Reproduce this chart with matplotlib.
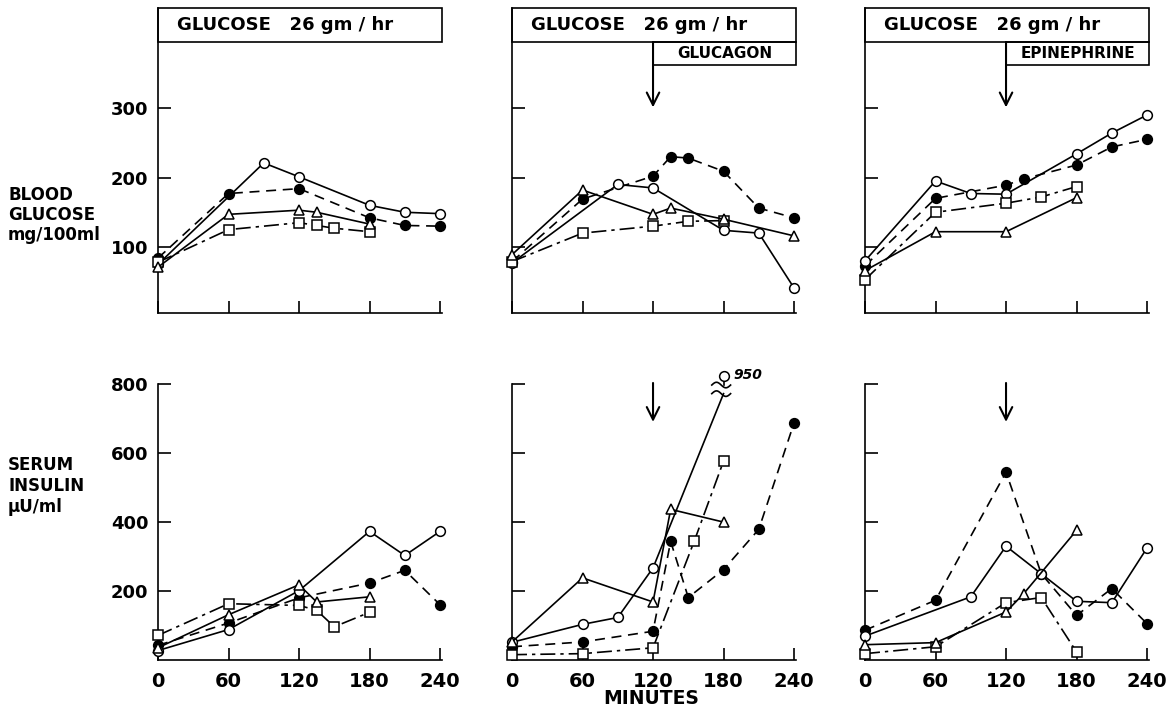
import numpy as np
import matplotlib.pyplot as plt
from matplotlib.patches import Rectangle

plt.rcParams['font.family'] = ['DejaVu Sans']
plt.rcParams['font.weight'] = 'bold'

# ---- blood glucose (mg/100 ml), glucose infusion alone ----
bg_ctrl_open_t = [0, 90, 120, 180, 210, 240]
bg_ctrl_open = [75, 221, 201, 160, 150, 148]
bg_ctrl_fill_t = [0, 60, 120, 180, 210, 240]
bg_ctrl_fill = [84, 177, 184, 142, 131, 130]
bg_ctrl_tri_t = [0, 60, 120, 135, 180]
bg_ctrl_tri = [71, 147, 153, 150, 133]
bg_ctrl_sq_t = [0, 60, 120, 135, 150, 180]
bg_ctrl_sq = [78, 125, 135, 131, 127, 122]

# ---- blood glucose, glucose + glucagon ----
bg_gcg_open_t = [0, 90, 120, 180, 210, 240]
bg_gcg_open = [77, 190, 185, 124, 120, 41]
bg_gcg_fill_t = [0, 60, 120, 135, 150, 180, 210, 240]
bg_gcg_fill = [79, 169, 202, 230, 228, 209, 156, 142]
bg_gcg_tri_t = [0, 60, 120, 135, 180, 240]
bg_gcg_tri = [89, 182, 147, 156, 140, 116]
bg_gcg_sq_t = [0, 60, 120, 150, 180]
bg_gcg_sq = [79, 120, 130, 137, 138]

# ---- blood glucose, glucose + epinephrine ----
bg_epi_open_t = [0, 60, 90, 120, 180, 210, 240]
bg_epi_open = [80, 195, 177, 176, 234, 264, 290]
bg_epi_fill_t = [0, 60, 120, 135, 180, 210, 240]
bg_epi_fill = [73, 170, 189, 198, 218, 244, 255]
bg_epi_tri_t = [0, 60, 120, 180]
bg_epi_tri = [66, 122, 122, 171]
bg_epi_sq_t = [0, 60, 120, 150, 180]
bg_epi_sq = [53, 150, 163, 172, 187]

# ---- serum insulin (uU/ml), glucose alone ----
si_ctrl_open_t = [0, 60, 120, 180, 210, 240]
si_ctrl_open = [26, 87, 200, 372, 302, 372]
si_ctrl_fill_t = [0, 60, 120, 180, 210, 240]
si_ctrl_fill = [41, 106, 179, 222, 259, 159]
si_ctrl_tri_t = [0, 60, 120, 135, 180]
si_ctrl_tri = [34, 130, 217, 167, 182]
si_ctrl_sq_t = [0, 60, 120, 135, 150, 180]
si_ctrl_sq = [70, 162, 157, 143, 95, 137]

# ---- serum insulin, glucose + glucagon ----
si_gcg_open_t = [0, 60, 90, 120, 180]
si_gcg_open = [50, 102, 122, 266, 950]
si_gcg_fill_t = [0, 60, 120, 135, 150, 180, 210, 240]
si_gcg_fill = [37, 51, 82, 343, 180, 261, 378, 687]
si_gcg_tri_t = [0, 60, 120, 135, 180]
si_gcg_tri = [51, 237, 167, 436, 399]
si_gcg_sq_t = [0, 60, 120, 155, 180]
si_gcg_sq = [14, 17, 34, 343, 576]

# ---- serum insulin, glucose + epinephrine ----
si_epi_open_t = [0, 90, 120, 150, 180, 210, 240]
si_epi_open = [68, 182, 329, 249, 169, 165, 324]
si_epi_fill_t = [0, 60, 120, 150, 180, 210, 240]
si_epi_fill = [85, 172, 544, 249, 128, 206, 104]
si_epi_tri_t = [0, 60, 120, 135, 180]
si_epi_tri = [43, 49, 138, 191, 375]
si_epi_sq_t = [0, 60, 120, 150, 180]
si_epi_sq = [17, 37, 165, 180, 22]

x_ticks = [0, 60, 120, 180, 240]
bg_ticks = [100, 200, 300]
si_ticks = [200, 400, 600, 800]
header = "GLUCOSE   26 gm / hr"
extras = [None, "GLUCAGON", "EPINEPHRINE"]

styles = {
    'open': dict(marker='o', mfc='white', ls='-', zorder=4),
    'fill': dict(marker='o', mfc='black', ls=(0, (6, 4)), zorder=3),
    'tri': dict(marker='^', mfc='white', ls='-', zorder=5),
    'sq': dict(marker='s', mfc='white', ls=(0, (9, 3, 2, 3)), zorder=4),
}


def draw(ax, t, v, kind, top=None):
    st = styles[kind]
    kw = dict(color='black', lw=1.2, ms=7, mec='black', mew=1.1,
              clip_on=False)
    if top is not None and v[-1] > top:
        # off-scale last value: line up to a break, marker above the axis
        brk_lo, brk_hi, mark_y = 772, 797, 823
        ax.plot(t[:-1] + [t[-1]], v[:-1] + [brk_lo], ls=st['ls'],
                color='black', lw=1.2, zorder=st['zorder'], clip_on=False)
        ax.plot(t[:-1], v[:-1], ls='none', marker=st['marker'],
                mfc=st['mfc'], zorder=st['zorder'] + 1, **kw)
        ax.plot([t[-1]], [mark_y], ls='none', marker=st['marker'],
                mfc=st['mfc'], zorder=st['zorder'] + 1, **kw)
        ax.plot([t[-1], t[-1]], [brk_hi, mark_y - 12], color='black',
                lw=1.2, clip_on=False)
        xs = np.linspace(t[-1] - 10, t[-1] + 6, 40)
        for lvl in (brk_lo, brk_hi):
            ax.plot(xs, lvl + 8 * np.sin((xs - xs[0]) / 16 * 2 * np.pi),
                    color='black', lw=1.2, clip_on=False)
        ax.text(t[-1] + 8, mark_y + 4, str(v[-1]), fontsize=10,
                style='italic', va='center', ha='left')
        return
    ax.plot(t, v, ls=st['ls'], marker=st['marker'], mfc=st['mfc'],
            zorder=st['zorder'], **kw)


fig = plt.figure(figsize=(11.75, 7.12), dpi=100)
lefts = [158 / 1175, 512 / 1175, 865 / 1175]
width = 284.4 / 1175

top_sets = [
    [(bg_ctrl_open_t, bg_ctrl_open, 'open'), (bg_ctrl_fill_t, bg_ctrl_fill, 'fill'),
     (bg_ctrl_tri_t, bg_ctrl_tri, 'tri'), (bg_ctrl_sq_t, bg_ctrl_sq, 'sq')],
    [(bg_gcg_open_t, bg_gcg_open, 'open'), (bg_gcg_fill_t, bg_gcg_fill, 'fill'),
     (bg_gcg_tri_t, bg_gcg_tri, 'tri'), (bg_gcg_sq_t, bg_gcg_sq, 'sq')],
    [(bg_epi_open_t, bg_epi_open, 'open'), (bg_epi_fill_t, bg_epi_fill, 'fill'),
     (bg_epi_tri_t, bg_epi_tri, 'tri'), (bg_epi_sq_t, bg_epi_sq, 'sq')],
]
bot_sets = [
    [(si_ctrl_open_t, si_ctrl_open, 'open'), (si_ctrl_fill_t, si_ctrl_fill, 'fill'),
     (si_ctrl_tri_t, si_ctrl_tri, 'tri'), (si_ctrl_sq_t, si_ctrl_sq, 'sq')],
    [(si_gcg_open_t, si_gcg_open, 'open'), (si_gcg_fill_t, si_gcg_fill, 'fill'),
     (si_gcg_tri_t, si_gcg_tri, 'tri'), (si_gcg_sq_t, si_gcg_sq, 'sq')],
    [(si_epi_open_t, si_epi_open, 'open'), (si_epi_fill_t, si_epi_fill, 'fill'),
     (si_epi_tri_t, si_epi_tri, 'tri'), (si_epi_sq_t, si_epi_sq, 'sq')],
]


def style_axes(ax, yticks, show_y, show_x):
    for s in ('top', 'right'):
        ax.spines[s].set_visible(False)
    for s in ('left', 'bottom'):
        ax.spines[s].set_linewidth(1.2)
    ax.set_xlim(0, 242)
    ax.set_xticks(x_ticks)
    ax.set_yticks(yticks)
    ax.tick_params(direction='in', length=9, width=1.2, labelsize=13)
    ax.tick_params(axis='x', pad=9, labelsize=14)
    ax.tick_params(axis='y', pad=7)
    if not show_y:
        ax.set_yticklabels([])
    if not show_x:
        ax.set_xticklabels([])


for i in range(3):
    ax = fig.add_axes([lefts[i], 399 / 712, width, 305 / 712])
    ax.set_ylim(5, 444)
    style_axes(ax, bg_ticks, i == 0, False)
    for t, v, kind in top_sets[i]:
        draw(ax, t, v, kind)
    ax.add_patch(Rectangle((0, 395), 242, 49, fill=False, lw=1.2,
                           clip_on=False))
    ax.text(16, 419.5, header, fontsize=13, va='center', ha='left')
    if extras[i]:
        ax.add_patch(Rectangle((120, 362), 122, 33, fill=False, lw=1.2,
                               clip_on=False))
        ax.text(181, 378.5, extras[i], fontsize=11, va='center', ha='center')
        ax.annotate("", xy=(120, 301), xytext=(120, 395),
                    arrowprops=dict(arrowstyle="->,head_length=0.9,head_width=0.45",
                                    lw=1.5, color='black', shrinkA=0, shrinkB=0))

    ax = fig.add_axes([lefts[i], 52.5 / 712, width, 275.5 / 712])
    ax.set_ylim(0, 800)
    style_axes(ax, si_ticks, i == 0, True)
    for t, v, kind in bot_sets[i]:
        draw(ax, t, v, kind, top=800)
    if extras[i]:
        ax.annotate("", xy=(120, 690), xytext=(120, 803),
                    arrowprops=dict(arrowstyle="->,head_length=0.9,head_width=0.45",
                                    lw=1.5, color='black', shrinkA=0, shrinkB=0),
                    annotation_clip=False)

for y, s in [(195, "BLOOD"), (215, "GLUCOSE"), (235, "mg/100ml"),
             (465, "SERUM"), (486, "INSULIN"), (507, "\u03bcU/ml")]:
    fig.text(8 / 1175, 1 - y / 712, s, fontsize=12, va='center', ha='left')

fig.text(651 / 1175, 1 - 699 / 712, "MINUTES", fontsize=13.5,
         ha='center', va='center')

plt.savefig("out.png", dpi=100)
